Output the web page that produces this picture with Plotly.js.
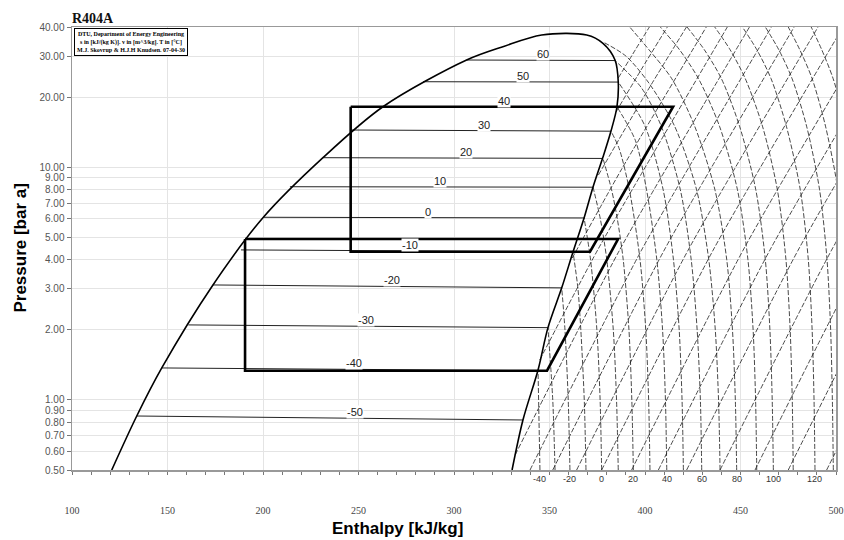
<!DOCTYPE html>
<html><head><meta charset="utf-8">
<script src="https://cdn.plot.ly/plotly-3.0.1.min.js"></script>
<style>html,body{margin:0;padding:0;background:#fff}#chart{width:844px;height:540px}</style>
</head><body><div id="chart"></div>
<script>
// ---- Saturation dome (liquid line up, over the top, vapour line down) ----
const domeH = [120.8,133.9,147.0,173.8,200.2,231.4,262.8,306.6,325.6,345.9,369.5,378.0,384.3,386.0,385.3,382.2,378.0,372.8,368.1,362.3,356.4,349.2,344.0,336.1,330.4];
const domeP = [0.5,0.853,1.372,3.118,6.09,10.98,18.18,28.86,32.92,36.96,36.96,34.04,28.86,23.21,18.13,14.3,11.05,8.22,6.05,4.32,3.03,2.044,1.345,0.82,0.5];

// ---- Isotherms inside the two-phase region ----
const satT  = [-50,-40,-30,-20,-10,0,10,20,30,40,50,60];
const satHl = [133.9,147.0,160.9,173.8,188.5,200.2,214.1,231.4,246.6,262.8,283.8,306.6];
const satPl = [0.853,1.372,2.10,3.118,4.41,6.09,8.24,10.98,14.44,18.18,23.28,28.86];
const satHv = [336.1,344.0,349.2,356.4,362.3,368.1,372.8,378.0,382.2,385.3,386.0,384.3];
const satPv = [0.82,1.335,2.044,3.03,4.33,6.05,8.2,10.9,14.27,18.18,23.2,28.7];
const satLabelH = [248.2,247.6,253.8,267.4,277.0,286.2,292.7,306.1,315.9,326.2,336.1,346.4];

// ---- Isotherms in the superheated region ----
const supT = [-40,-30,-20,-10,0,10,20,30,40,50,60,70,80,90,100,110,120,130,140,150];
const supH = [
  [345.0,344.0],
  [352.9,351.7,349.2],
  [360.7,359.8,358.1,356.4],
  [369.1,368.2,366.4,364.9,362.3],
  [377.3,376.5,374.8,371.5,368.1],
  [386.0,385.1,383.4,380.0,376.6,372.8],
  [393.9,393.1,391.6,388.6,385.5,382.5,378.0],
  [402.6,401.9,400.4,397.4,391.8,386.5,382.2],
  [411.4,410.7,409.2,406.2,400.8,395.0,385.3],
  [420.1,419.4,417.9,414.9,409.5,400.0,386.0],
  [429.7,429.0,427.3,424.2,418.5,408.5,398.0,384.3],
  [439.3,438.5,436.8,433.4,427.0,415.5,402.0,390.0,378.0],
  [448.0,447.3,445.8,442.8,436.6,426.0,414.0,402.0,392.0],
  [458.5,457.9,456.6,453.9,448.4,439.0,428.0,418.0,408.0],
  [467.2,466.6,465.4,463.0,458.0,449.5,440.0,431.0,422.0],
  [477.6,477.1,476.0,473.8,469.3,461.5,452.5,444.5,436.5],
  [489.0,488.5,487.5,485.5,481.3,474.0,466.0,458.5,451.0],
  [498.6,498.1,497.2,495.3,491.4,484.6,477.0,470.0,463.0],
  [508.0,507.5,506.6,504.8,501.0,494.5,487.5,481.0,475.0],
  [518.0,517.5,516.7,515.0,511.4,505.3,498.5,492.5,487.0]
];
const supP = [
  [0.5,1.335],
  [0.5,1,2.044],
  [0.5,1,2,3.03],
  [0.5,1,2,3,4.33],
  [0.5,1,2,4,6.05],
  [0.5,1,2,4,6,8.2],
  [0.5,1,2,4,6,8,10.9],
  [0.5,1,2,4,8,12,14.27],
  [0.5,1,2,4,8,13,18.18],
  [0.5,1,2,4,8,15,23.2],
  [0.5,1,2,4,8,15,22,28.7],
  [0.5,1,2,4,8,15,23,30,34.5],
  [0.5,1,2,4,8,15,24,32,40],
  [0.5,1,2,4,8,15,24,32,40],
  [0.5,1,2,4,8,15,24,32,40],
  [0.5,1,2,4,8,15,24,32,40],
  [0.5,1,2,4,8,15,24,32,40],
  [0.5,1,2,4,8,15,24,32,40],
  [0.5,1,2,4,8,15,24,32,40],
  [0.5,1,2,4,8,15,24,32,40]
];
const bottomLabelT = [-40,-20,0,20,40,60,80,100,120];

// ---- Isentropes ----
const isenH = [
  [386.0,394.9,402.3],
  [384.8,397.9,411.7],
  [375.6,398.4,421.7],
  [361.9,387.5,432.1],
  [344.9,375.5,443.1],
  [332.0,387.0,454.7],
  [339.8,398.5,466.2],
  [351.7,410.4,478.1],
  [364.2,422.9,490.6],
  [377.3,436.0,503.7],
  [393.0,451.7,519.4],
  [407.0,465.7,533.4],
  [421.8,480.5,548.2],
  [439.3,498.0,565.7],
  [457.6,516.3,584.0],
  [475.0,533.7,601.4],
  [495.1,553.8,621.5]
];
const isenP = [
  [24.15,31.87,40],
  [17.26,26.15,40],
  [9.25,19.43,40],
  [4.07,9.72,40],
  [1.485,4.45,40],
  [0.58,4.45,40],
  [0.5,4.45,40],[0.5,4.45,40],[0.5,4.45,40],[0.5,4.45,40],[0.5,4.45,40],
  [0.5,4.45,40],[0.5,4.45,40],[0.5,4.45,40],[0.5,4.45,40],[0.5,4.45,40],[0.5,4.45,40]
];

// ---- Refrigeration cycles ----
const cycleLowH  = [190.6,190.6,348.7,385.9,190.6];
const cycleLowP  = [4.91,1.335,1.335,4.91,4.91];
const cycleHighH = [245.9,245.9,371.2,414.7,245.9];
const cycleHighP = [18.18,4.33,4.33,18.18,18.18];

// ---- Axis ticks ----
const yTickVals = [40,30,20,10,9,8,7,6,5,4,3,2,1,0.9,0.8,0.7,0.6,0.5];
const yTickText = ["40.00","30.00","20.00","10.00","9.00","8.00","7.00","6.00","5.00","4.00","3.00","2.00","1.00","0.90","0.80","0.70","0.60","0.50"];

const traces = [];
const dashStyle = {color:'#1a1a1a', width:0.8, dash:'5px,2px'};
supH.forEach((h,i)=>traces.push({type:'scatter',mode:'lines',x:h,y:supP[i],line:Object.assign({shape:'spline',smoothing:0.8},dashStyle),hoverinfo:'skip',showlegend:false}));
isenH.forEach((h,i)=>traces.push({type:'scatter',mode:'lines',x:h,y:isenP[i],line:Object.assign({shape:'spline',smoothing:0.6},dashStyle),hoverinfo:'skip',showlegend:false}));
satT.forEach((t,i)=>traces.push({type:'scatter',mode:'lines',x:[satHl[i],satHv[i]],y:[satPl[i],satPv[i]],line:{color:'#222',width:1},hoverinfo:'skip',showlegend:false}));
traces.push({type:'scatter',mode:'lines',x:domeH,y:domeP,line:{color:'#000',width:1.6,shape:'spline',smoothing:0.9},hoverinfo:'skip',showlegend:false});
traces.push({type:'scatter',mode:'lines',x:cycleLowH,y:cycleLowP,line:{color:'#000',width:2.6},hoverinfo:'skip',showlegend:false});
traces.push({type:'scatter',mode:'lines',x:cycleHighH,y:cycleHighP,line:{color:'#000',width:2.6},hoverinfo:'skip',showlegend:false});

const annotations = [];
satT.forEach((t,i)=>{
  const f = (satLabelH[i]-satHl[i])/(satHv[i]-satHl[i]);
  const p = satPl[i] + (satPv[i]-satPl[i])*f;
  annotations.push({x:satLabelH[i],y:Math.log10(p),xref:'x',yref:'y',text:String(t),showarrow:false,
    yshift:6,bgcolor:'#fff',borderpad:0,font:{family:'Liberation Sans, Arial',size:11,color:'#222'}});
});
supT.forEach((t,i)=>{
  if(bottomLabelT.indexOf(t)<0) return;
  annotations.push({x:supH[i][0],y:0,xref:'x',yref:'paper',yanchor:'top',yshift:-2,text:String(t),showarrow:false,
    font:{family:'Liberation Sans, Arial',size:9,color:'#333'}});
});
annotations.push({x:0.002,y:0.998,xref:'paper',yref:'paper',xanchor:'left',yanchor:'top',showarrow:false,align:'center',
  text:'<b>DTU, Department of Energy Engineering</b><br><b>s in [kJ/(kg K)]. v in [m^3/kg]. T in [°C]</b><br><b>M.J. Skovrup &amp; H.J.H Knudsen. 07-04-30</b>',
  bordercolor:'#000',borderwidth:1,borderpad:2,bgcolor:'#fff',font:{family:'Liberation Serif, Times New Roman',size:6,color:'#000'}});
annotations.push({x:-0.068,y:0.5,xref:'paper',yref:'paper',xanchor:'center',yanchor:'middle',textangle:-90,showarrow:false,
  text:'<b>Pressure [bar a]</b>',font:{family:'Liberation Sans, Arial',size:17,color:'#000'}});
annotations.push({x:0.4267,y:-0.133,xref:'paper',yref:'paper',xanchor:'center',yanchor:'middle',showarrow:false,
  text:'<b>Enthalpy [kJ/kg]</b>',font:{family:'Liberation Sans, Arial',size:17,color:'#000'}});

const layout = {
  width:844,height:540,
  margin:{l:72,r:8,t:27,b:70,pad:0},
  paper_bgcolor:'#fff',plot_bgcolor:'#fff',
  title:{text:'<b>R404A</b>',x:72/844,xanchor:'left',xref:'container',y:1-18/540,yanchor:'middle',yref:'container',
    font:{family:'Liberation Serif, Times New Roman',size:14,color:'#111'}},
  xaxis:{range:[100,500],tickmode:'linear',tick0:100,dtick:50,showgrid:true,gridcolor:'#e4e4e4',gridwidth:1,
    showline:true,mirror:true,linecolor:'#999',linewidth:1.5,ticks:'outside',ticklen:3,tickcolor:'#777',
    ticklabelstandoff:27,zeroline:false,
    minor:{tickmode:'linear',tick0:100,dtick:10,ticks:'outside',ticklen:3,tickcolor:'#777',showgrid:false},
    tickfont:{family:'Liberation Serif, Times New Roman',size:10,color:'#444'}},
  yaxis:{type:'log',range:[Math.log10(0.5),Math.log10(40)],tickmode:'array',tickvals:yTickVals,ticktext:yTickText,
    showgrid:true,gridcolor:'#e4e4e4',gridwidth:1,showline:true,mirror:true,linecolor:'#999',linewidth:1.5,
    ticks:'outside',ticklen:4,tickcolor:'#777',zeroline:false,
    tickfont:{family:'Liberation Sans, Arial',size:10,color:'#555'}},
  annotations:annotations,
  showlegend:false
};
Plotly.newPlot('chart',traces,layout,{staticPlot:true,displayModeBar:false});
</script>
</body></html>
